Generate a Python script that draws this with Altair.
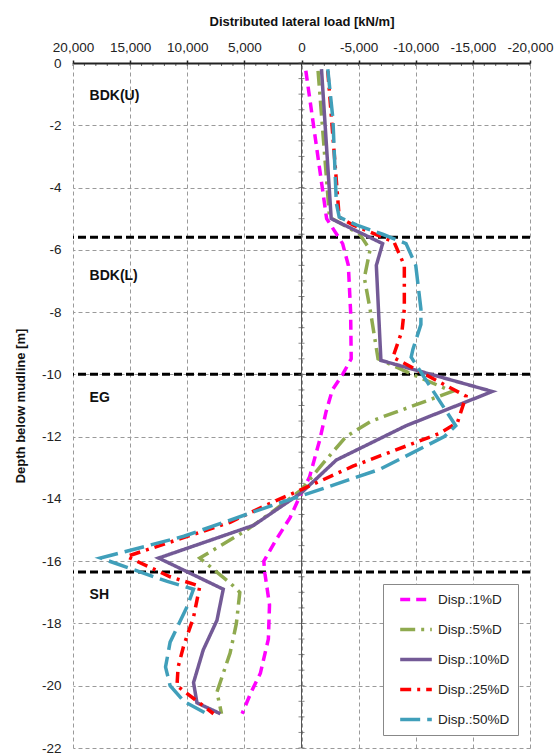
import altair as alt
import pandas as pd

# ---------------- data ----------------
series_names = ["Disp.:1%D", "Disp.:5%D", "Disp.:10%D", "Disp.:25%D", "Disp.:50%D"]

depth_1 = [-0.25, -5.0, -5.4, -5.8, -6.5, -8.0, -9.5, -10.0, -10.5, -11.2, -12.1, -13.3, -13.8,
           -14.6, -15.3, -16.0, -16.4, -17.4, -18.5, -19.6, -20.2, -20.9]
load_1 = [-380, -2200, -2900, -3600, -4100, -4300, -4350, -3600, -2700, -2150, -1600, -700, 0,
          1000, 2200, 3300, 3200, 2800, 2900, 3600, 4400, 5200]

depth_5 = [-0.25, -4.95, -5.5, -6.0, -6.9, -7.9, -9.5, -10.0, -10.55, -11.5, -12.0, -12.85, -13.7,
           -14.4, -15.0, -15.9, -16.7, -17.0, -18.0, -18.95, -20.2, -20.9]
load_5 = [-1450, -2450, -5100, -6000, -5500, -6000, -6700, -9700, -13200, -6100, -3900, -1900, 0,
          2500, 4800, 8900, 6250, 5400, 5700, 6250, 7400, 7000]

depth_10 = [-0.2, -5.0, -5.8, -6.5, -9.55, -10.55, -11.65, -12.75, -13.8, -14.85, -15.9, -16.9,
            -17.9, -18.85, -19.9, -20.55, -20.9]
load_10 = [-1750, -2600, -7100, -6550, -6950, -16700, -9150, -3050, 0, 4200, 12500, 6850,
           7400, 8600, 9450, 9150, 7100]

depth_25 = [-0.25, -4.95, -5.2, -5.75, -6.5, -7.9, -8.6, -9.45, -10.7, -11.55, -11.9, -12.95, -13.7,
            -14.1, -14.75, -15.85, -16.5, -16.8, -17.8, -18.7, -19.4, -20.0, -20.9]
load_25 = [-2300, -3300, -4500, -8100, -9000, -9000, -8800, -8000, -14400, -13650, -12050, -4500, 0,
           2500, 6250, 15300, 11500, 8900, 9450, 10300, 10800, 10900, 7700]

depth_50 = [-0.2, -1.8, -4.5, -4.95, -5.2, -5.5, -5.8, -6.5, -7.9, -8.4, -9.2, -9.45, -11.65, -12.0,
            -13.05, -13.9, -14.2, -15.2, -15.9, -16.65, -16.9, -17.45, -18.6, -19.4, -20.0, -20.5, -20.9]
load_50 = [-2300, -2750, -3050, -3300, -4800, -7100, -9150, -10000, -10450, -10450, -9750, -9600,
           -13500, -12500, -6850, 0, 2500, 10300, 17600, 11750, 9450, 10000, 11500, 11900, 11500,
           10300, 8300]

layer_names = ["BDK(U)", "BDK(L)", "EG", "SH"]
layer_label_depth = [-1.05, -6.85, -10.75, -17.1]
layer_label_load = [18550, 18550, 18550, 18550]
layer_boundaries = [-5.6, -10.0, -16.35]

x_tick_values = [20000, 15000, 10000, 5000, 0, -5000, -10000, -15000, -20000]
y_tick_values = [0, -2, -4, -6, -8, -10, -12, -14, -16, -18, -20, -22]
x_minor_ticks = [v * 1000 for v in range(-20, 21)]
y_minor_ticks = [v * -0.5 for v in range(0, 45)]

colors = ["#FF00FF", "#8FAA4F", "#735A96", "#FF0000", "#409FBA"]
dashes = [[10, 6], [15, 6, 3, 6], [1, 0], [11, 6, 3, 6], [20, 7]]

# ---------------- build tables ----------------
rows = []
for name, dd, ll in zip(series_names,
                        [depth_1, depth_5, depth_10, depth_25, depth_50],
                        [load_1, load_5, load_10, load_25, load_50]):
    for i, (d, l) in enumerate(zip(dd, ll)):
        rows.append({"series": name, "depth": d, "load": l, "idx": i})
df = pd.DataFrame(rows)

labels_df = pd.DataFrame({"name": layer_names, "depth": layer_label_depth, "load": layer_label_load})
bounds_df = pd.DataFrame({"depth": layer_boundaries})
xminor_df = pd.DataFrame({"load": x_minor_ticks, "depth": [0] * len(x_minor_ticks)})
yminor_df = pd.DataFrame({"depth": y_minor_ticks, "load": [0] * len(y_minor_ticks)})
zero_df = pd.DataFrame({"load": [0]})

xscale = alt.Scale(domain=[-20000, 20000], reverse=True, nice=False, zero=False)
yscale = alt.Scale(domain=[-22, 0], nice=False, zero=False)

X_LABEL = "replace(format(datum.value, ','), '\u2212', '-')"
Y_LABEL = "replace(format(datum.value, 'd'), '\u2212', '-')"

x_axis = alt.Axis(
    orient="top", title="Distributed lateral load [kN/m]", values=x_tick_values,
    labelExpr=X_LABEL, labelOverlap=False, labelBound=False, labelFlush=False,
    grid=True, gridDash=[4, 3], gridColor="#9a9a9a",
    gridWidth=1, domain=True, domainColor="#222222", domainWidth=2, ticks=True,
    tickColor="#222222", tickSize=3, tickWidth=1.5, labelPadding=6, titlePadding=12)
y_axis = alt.Axis(
    title="Depth below mudline [m]", values=y_tick_values, labelExpr=Y_LABEL,
    labelOverlap=False, labelFlush=False,
    grid=True, gridDash=[4, 3], gridColor="#9a9a9a", gridWidth=1, domain=False,
    ticks=False, tickSize=0, labelPadding=12, titlePadding=14)

X = alt.X("load:Q", scale=xscale, axis=x_axis, title="Distributed lateral load [kN/m]")
Y = alt.Y("depth:Q", scale=yscale, axis=y_axis, title="Depth below mudline [m]")

legend = alt.Legend(
    title=None, orient="none", legendX=310, legendY=521,
    fillColor="white", strokeColor="#888888", padding=8,
    symbolType="stroke", symbolSize=1000, symbolStrokeWidth=3.5,
    clipHeight=15, rowPadding=15, symbolOffset=7,
    labelFont="Liberation Sans", labelFontSize=13.5, labelColor="#222222", labelOffset=4,
)

lines = alt.Chart(df).mark_line(strokeWidth=3.5, strokeJoin="miter").encode(
    x=X, y=Y,
    color=alt.Color("series:N", scale=alt.Scale(domain=series_names, range=colors), legend=legend),
    strokeDash=alt.StrokeDash("series:N", scale=alt.Scale(domain=series_names, range=dashes), legend=legend),
    order=alt.Order("idx:Q"),
)

zero_rule = alt.Chart(zero_df).mark_rule(color="#555555", strokeWidth=1).encode(x=X)

y_minor = alt.Chart(yminor_df).mark_tick(orient="horizontal", size=6, thickness=1, color="#555555").encode(
    x=X, y=Y)

x_minor = alt.Chart(xminor_df).mark_tick(orient="vertical", size=3, thickness=1, color="#222222", yOffset=1.5).encode(
    x=X, y=Y)

bounds = alt.Chart(bounds_df).mark_rule(color="black", strokeWidth=3, strokeDash=[8, 4]).encode(y=Y)

layer_text = alt.Chart(labels_df).mark_text(
    align="left", baseline="middle", font="Liberation Sans", fontSize=14, fontWeight="bold", color="#111111"
).encode(x=X, y=Y, text="name:N")

chart = alt.layer(bounds, zero_rule, y_minor, x_minor, lines, layer_text).properties(
    width=457, height=685,
    autosize=alt.AutoSizeParams(type="none"),
    padding={"left": 73, "top": 63, "right": 24, "bottom": 5},
).configure_axis(
    labelFont="Liberation Sans", titleFont="Liberation Sans",
    labelFontSize=13.5, titleFontSize=13, titleFontWeight="bold",
    labelColor="#222222", titleColor="#111111",
).configure_view(strokeWidth=0)

chart.save("out.html", embed_options={"renderer": "svg", "actions": False})
